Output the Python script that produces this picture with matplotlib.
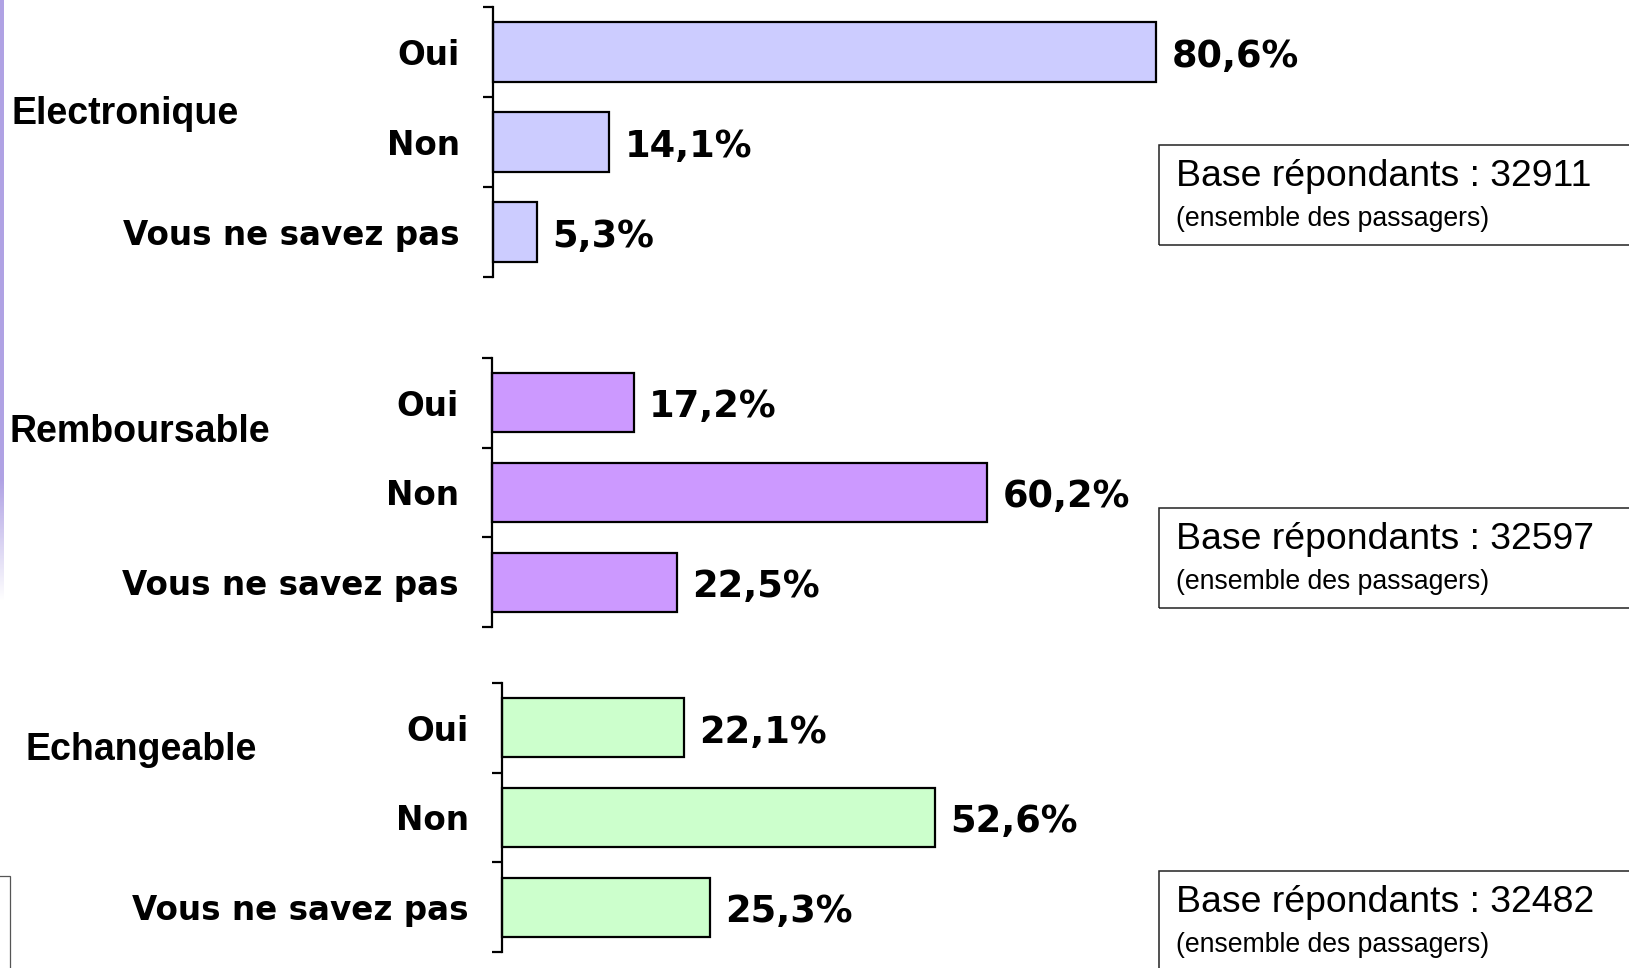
import numpy as np
import matplotlib
matplotlib.use("Agg")
import matplotlib.pyplot as plt
from matplotlib.patches import Rectangle

# survey answers per ticket type, in percent
answers = ["Oui", "Non", "Vous ne savez pas"]
groups = ["Electronique", "Remboursable", "Echangeable"]
electronique = [80.6, 14.1, 5.3]
remboursable = [17.2, 60.2, 22.5]
echangeable = [22.1, 52.6, 25.3]
base_counts = [32911, 32597, 32482]

W, H = 1629, 968
fig = plt.figure(figsize=(W / 100, H / 100), dpi=100)


def fx(px):
    return px / W


def fy(py):
    return 1 - py / H


colors = ["#CCCCFF", "#CC99FF", "#CCFFCC"]
# axis x position, top and bottom of each block (pixels from top-left)
frames = [(493, 7, 277), (492, 358, 627), (502, 683, 952)]
title_pos = [(12, 114), (10, 432), (26, 750)]
box_tops = [145, 508, 871]
px_per_pct = 8.23

for vals, name, col, (x0, top, bot), (tx, ty), btop, n in zip(
        [electronique, remboursable, echangeable], groups, colors, frames,
        title_pos, box_tops, base_counts):
    ax = fig.add_axes([fx(x0), fy(bot), fx(100 * px_per_pct), (bot - top) / H])
    bars = ax.barh(range(3), vals, height=0.66, color=col,
                   edgecolor="black", linewidth=1.6, clip_on=False)
    ax.set_xlim(0, 100)
    ax.set_ylim(2.5, -0.5)
    for s in ["top", "right", "bottom"]:
        ax.spines[s].set_visible(False)
    ax.spines["left"].set_linewidth(1.6)
    ax.set_xticks([])
    ax.set_yticks([-0.5, 0.5, 1.5, 2.5], labels=[""] * 4)
    ax.set_yticks([0, 1, 2], labels=answers, minor=True)
    ax.tick_params(axis="y", which="major", length=7, width=1.6, direction="out")
    ax.tick_params(axis="y", which="minor", length=0, pad=24)
    for lab in ax.get_yticklabels(minor=True):
        lab.set_fontfamily("DejaVu Sans")
        lab.set_fontweight("bold")
        lab.set_fontsize(23.5)
    texts = ax.bar_label(bars, labels=[f"{v:.1f}".replace(".", ",") + "%" for v in vals],
                         padding=11, fontsize=26.5, fontweight="bold",
                         fontfamily="DejaVu Sans")
    for t in texts:
        t.xyann = (11, -3)

    fig.text(fx(tx), fy(ty), name, fontsize=27, fontweight="bold",
             fontfamily="Liberation Sans", va="center", ha="left")

    # respondent base box, running off the right edge
    fig.add_artist(Rectangle((fx(1159), fy(btop + 100)), fx(480), 100 / H,
                             transform=fig.transFigure, fill=False,
                             edgecolor="#222222", linewidth=1.1))
    fig.text(fx(1176), fy(btop + 41), f"Base répondants : {n}",
             fontsize=26.9, fontfamily="Liberation Sans", va="baseline")
    fig.text(fx(1176), fy(btop + 81), "(ensemble des passagers)",
             fontsize=19.2, fontfamily="Liberation Sans", va="baseline")

# purple edge on the left, fading out downwards
edge = fig.add_axes([0, fy(600), fx(4), 600 / H])
alpha = np.clip((600 - np.arange(600)) / 120, 0, 1)[:, None] * np.ones((1, 4))
rgba = np.zeros((600, 4, 4))
rgba[..., :3] = matplotlib.colors.to_rgb("#B0A2E4")
rgba[..., 3] = alpha
edge.imshow(rgba, aspect="auto", interpolation="bilinear")
edge.axis("off")

# small frame at the bottom-left corner
fig.add_artist(Rectangle((fx(-20), fy(990)), fx(30), 114 / H,
                         transform=fig.transFigure, fill=False,
                         edgecolor="#555555", linewidth=0.9))

fig.savefig("out.png", dpi=100)
